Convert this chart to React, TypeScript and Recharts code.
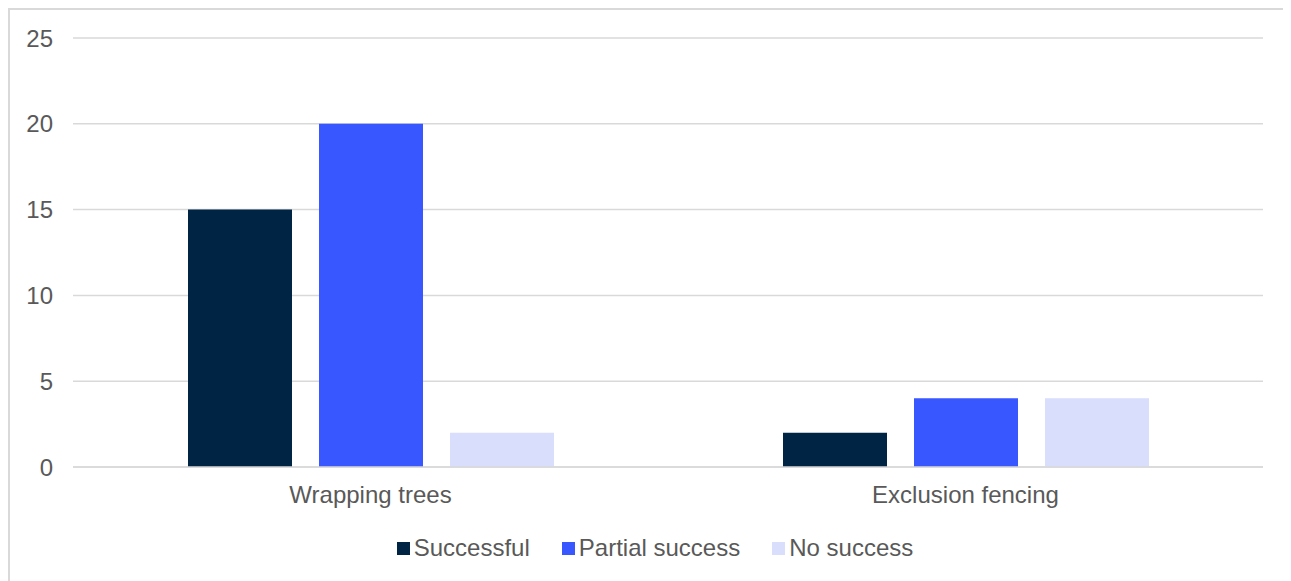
import { BarChart, Bar, XAxis, YAxis, CartesianGrid, Legend } from 'recharts';

const categories = ['Wrapping trees', 'Exclusion fencing'];
const successful = [15, 2];
const partialSuccess = [20, 4];
const noSuccess = [2, 4];
const yTicks = [0, 5, 10, 15, 20, 25];
const seriesNames = ['Successful', 'Partial success', 'No success'];

const colors = {
  successful: '#002444',
  partial: '#3857FF',
  none: '#D9DEFC',
  grid: '#D9D9D9',
  text: '#595959',
};

const data = categories.map((name, i) => ({
  name,
  successful: successful[i],
  partial: partialSuccess[i],
  none: noSuccess[i],
}));

const font = '"Liberation Sans", Arial, sans-serif';

function LegendContent({ payload }: any) {
  const items = [...(payload || [])].sort(
    (a: any, b: any) => seriesNames.indexOf(a.value) - seriesNames.indexOf(b.value)
  );
  return (
    <div
      style={{
        display: 'flex',
        justifyContent: 'center',
        alignItems: 'center',
        height: 30,
        boxSizing: 'border-box',
        paddingTop: 4,
        paddingLeft: 37,
        fontFamily: font,
        fontSize: 24,
        color: colors.text,
      }}
    >
      {items.map((p: any, i: number) => (
        <div
          key={p.value}
          style={{ display: 'flex', alignItems: 'center', marginLeft: i === 0 ? 0 : 32 }}
        >
          <span style={{ width: 13, height: 13, background: p.color, marginRight: 4, display: 'inline-block' }} />
          <span>{p.value}</span>
        </div>
      ))}
    </div>
  );
}

export default function App() {
  return (
    <div
      style={{
        width: 1290,
        height: 575,
        border: `2px solid ${colors.grid}`,
        boxSizing: 'border-box',
        background: '#fff',
      }}
    >
      <BarChart
        width={1286}
        height={571}
        data={data}
        margin={{ top: 28, right: 33, bottom: 20, left: 0 }}
        barSize={104}
        barGap={27}
      >
        <CartesianGrid vertical={false} stroke={colors.grid} strokeWidth={1.5} />
        <XAxis
          dataKey="name"
          height={64}
          axisLine={{ stroke: colors.grid, strokeWidth: 1.5 }}
          tickLine={false}
          tickMargin={13}
          tick={{ fill: colors.text, fontSize: 24, fontFamily: font }}
        />
        <YAxis
          width={63}
          domain={[0, 25]}
          ticks={yTicks}
          axisLine={false}
          tickLine={false}
          tickMargin={14}
          tick={{ fill: colors.text, fontSize: 24, fontFamily: font }}
        />
        <Legend verticalAlign="bottom" content={<LegendContent />} />
        <Bar dataKey="successful" name="Successful" fill={colors.successful} isAnimationActive={false} />
        <Bar dataKey="partial" name="Partial success" fill={colors.partial} isAnimationActive={false} />
        <Bar dataKey="none" name="No success" fill={colors.none} isAnimationActive={false} />
      </BarChart>
    </div>
  );
}
